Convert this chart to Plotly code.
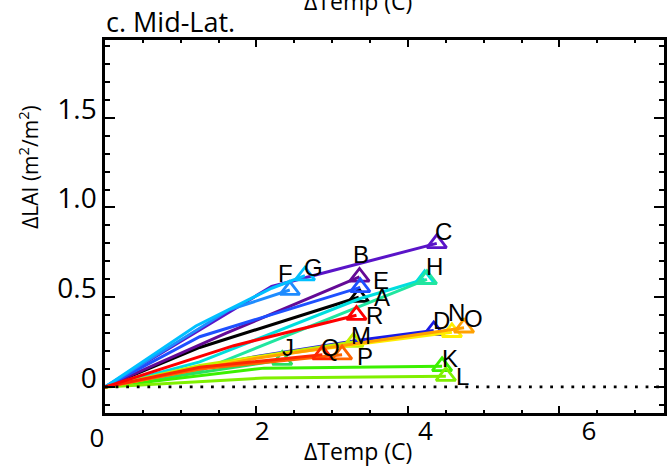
import plotly.graph_objects as go

# ---- data ----
series_labels = ["A", "B", "C", "D", "E", "F", "G", "I", "H", "J", "K", "L", "M", "N", "O", "P", "Q", "R"]
series_text   = ["A", "B", "C", "D", "E", "F", "G", "",  "H", "J", "K", "L", "M", "N", "O", "P", "Q", "R"]
series_colors = ["#000000", "#640a96", "#5a14c8", "#1a1ae6", "#1e50ff", "#1e8cff", "#00c0ff", "#00dede",
                 "#20e6a0", "#28e060", "#3cf000", "#80f000", "#c0f000", "#ffee00", "#ffa000",
                 "#ff6400", "#ff2800", "#ff0000"]
temp_paths = [
    [0, 1.25, 3.35],         # A
    [0, 1.6, 3.36],          # B
    [0, 2.2, 4.38],          # C
    [0, 2.0, 3.35, 4.34],    # D
    [0, 1.25, 3.37],         # E
    [0, 1.64, 2.44],         # F
    [0, 1.2, 2.2, 2.64],     # G
    [0, 1.25, 3.35, 4.22],   # (unlabelled cyan)
    [0, 1.25, 4.25],         # H
    [0, 1.25, 2.34],         # J
    [0, 2.1, 4.45],          # K
    [0, 2.1, 4.50],          # L
    [0, 1.25, 3.28],         # M
    [0, 2.0, 4.58],          # N
    [0, 2.0, 4.74],          # O
    [0, 1.25, 3.13],         # P
    [0, 1.25, 2.87],         # Q
    [0, 1.7, 3.32],          # R
]
lai_paths = [
    [0, 0.22, 0.50],
    [0, 0.30, 0.613],
    [0, 0.56, 0.80],
    [0, 0.17, 0.26, 0.315],
    [0, 0.28, 0.555],
    [0, 0.43, 0.54],
    [0, 0.34, 0.55, 0.62],
    [0, 0.14, 0.49, 0.60],
    [0, 0.09, 0.60],
    [0, 0.08, 0.15],
    [0, 0.105, 0.115],
    [0, 0.05, 0.06],
    [0, 0.12, 0.25],
    [0, 0.165, 0.305],
    [0, 0.16, 0.33],
    [0, 0.10, 0.18],
    [0, 0.11, 0.18],
    [0, 0.23, 0.40],
]
x_tick_vals = [0, 2, 4, 6]
x_tick_text = ["0", "2", "4", "6"]

# label offsets in pixels (style only)
label_shift = [(23, 0), (1, -22), (7, -12), (8, -10), (21, -7), (-4, -17), (9, -8), (0, 0),
               (8, -13), (6, -13), (8, -8), (17, 0), (8, -7), (5, -20), (9, -9),
               (23, 2), (8, -7), (18, 0)]

TICKFONT = "Open Sans"
LETTERFONT = "Liberation Sans"

fig = go.Figure()

# each scenario: line, then triangle at its end
for xs, ys, c in zip(temp_paths, lai_paths, series_colors):
    fig.add_trace(go.Scatter(x=xs, y=ys, mode="lines", line=dict(color=c, width=3),
                             hoverinfo="skip"))
    fig.add_trace(go.Scatter(x=[xs[-1]], y=[ys[-1]], mode="markers",
                             marker=dict(symbol="triangle-up-open", size=17, color=c,
                                         line=dict(color=c, width=2.8)),
                             hoverinfo="skip"))

# stray dot above the frame
fig.add_trace(go.Scatter(x=[3.70], y=[1.948], mode="markers", cliponaxis=False,
                         marker=dict(color="black", size=3), hoverinfo="skip"))

# invisible trace to host tick-label axis
fig.add_trace(go.Scatter(x=[1.0], y=[0.0], xaxis="x2", mode="markers",
                         marker=dict(opacity=0), hoverinfo="skip"))

# letter labels
for xs, ys, t, (dx, dy) in zip(temp_paths, lai_paths, series_text, label_shift):
    if not t:
        continue
    fig.add_annotation(x=xs[-1], y=ys[-1], xref="x", yref="y", text=t, showarrow=False,
                       xshift=dx, yshift=-dy,
                       font=dict(family=LETTERFONT, size=24, color="black"))

# zero dotted line
fig.add_shape(type="line", xref="paper", yref="y", x0=0, x1=1, y0=0, y1=0,
              line=dict(color="black", width=2.8, dash="2.8px,7.8px"))

# titles
fig.add_annotation(text="c. Mid-Lat.", xref="paper", yref="paper", x=-0.002, y=1.0,
                   xanchor="left", yanchor="bottom", yshift=-2, showarrow=False,
                   font=dict(family=TICKFONT, size=27, color="black"))
fig.add_annotation(text="ΔTemp (C)", xref="paper", yref="paper", x=0.452, y=-0.102,
                   xanchor="center", yanchor="middle", showarrow=False,
                   font=dict(family=TICKFONT, size=23, color="black"))
fig.add_annotation(text="ΔTemp (C)", xref="paper", yref="paper", x=0.452, y=1.105,
                   xanchor="center", yanchor="middle", showarrow=False,
                   font=dict(family=TICKFONT, size=23, color="black"))
fig.add_annotation(text="ΔLAI (m<sup>2</sup>/m<sup>2</sup>)", xref="paper", yref="paper",
                   x=-0.136, y=0.66, xanchor="center", yanchor="middle", textangle=-90,
                   showarrow=False, font=dict(family=TICKFONT, size=21, color="black"))

fig.update_layout(
    width=668, height=468,
    margin=dict(l=105, r=1, t=40, b=55),
    plot_bgcolor="white", paper_bgcolor="white",
    showlegend=False,
    xaxis=dict(range=[0, 7.38], showline=True, linewidth=2.5, linecolor="black",
               mirror="ticks", ticks="inside", ticklen=7, tickwidth=2, tickcolor="black",
               tickmode="array", tickvals=x_tick_vals,
               ticktext=[x_tick_text[0], " ", " ", " "], ticklabelshift=-8,
               tickfont=dict(family=TICKFONT, size=26, color="black"),
               showgrid=False, zeroline=False,
               minor=dict(dtick=0.5, tick0=0, ticks="inside", ticklen=3.5, tickwidth=2,
                          tickcolor="black", showgrid=False)),
    xaxis2=dict(overlaying="x", anchor="y", side="bottom", range=[0.077, 6.92],
                tickmode="array", tickvals=x_tick_vals[1:], ticktext=x_tick_text[1:],
                ticks="", showline=False, showgrid=False, zeroline=False,
                tickfont=dict(family=TICKFONT, size=26, color="black")),
    yaxis=dict(range=[-0.145, 1.933], showline=True, linewidth=2.5, linecolor="black",
               mirror="ticks", ticks="inside", ticklen=10, tickwidth=2, tickcolor="black",
               tick0=0, dtick=0.5, tickformat=".1f", labelalias={"0.0": "0"},
               showgrid=False, zeroline=False, ticklabelshift=-9,
               tickfont=dict(family=TICKFONT, size=28, color="black"),
               minor=dict(dtick=0.1, tick0=0, ticks="inside", ticklen=5, tickwidth=2,
                          tickcolor="black", showgrid=False)),
)

fig.write_html("out.html")
